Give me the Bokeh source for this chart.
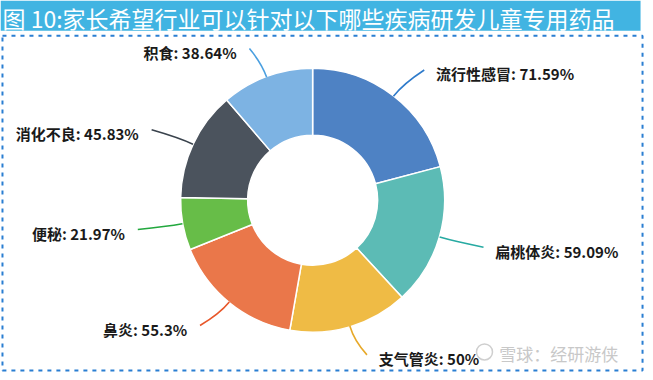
import numpy as np
import pandas as pd
from bokeh.plotting import figure
from bokeh.models import ColumnDataSource, Range1d
from bokeh.core.properties import value
from bokeh.embed import file_html
from bokeh.resources import INLINE

# ---------------- data ----------------
title_text = "图 10:家长希望行业可以针对以下哪些疾病研发儿童专用药品"
categories = ["流行性感冒", "扁桃体炎", "支气管炎", "鼻炎", "便秘", "消化不良", "积食"]
percent_values = [71.59, 59.09, 50, 55.3, 21.97, 45.83, 38.64]
percent_labels = ["71.59%", "59.09%", "50%", "55.3%", "21.97%", "45.83%", "38.64%"]
watermark_text = "雪球：经研游侠"

# ---------------- styles / layout ----------------
slice_colors = ["#4E82C4", "#5CBBB5", "#EFBB45", "#EA774A", "#67BD48", "#4B535D", "#7DB3E3"]
line_colors = ["#2F7BCB", "#27AAA2", "#E7A92A", "#E8572A", "#22A83E", "#3A434D", "#4CA0E0"]
W, H = 653, 380           # reference-pixel coordinate system (y measured downward)
cx, cy = 316, 204         # donut centre
R_OUT_PX, R_IN_PX = 132, 65
R_DATA = 134
# leader-line end points (reference pixels) and on which side the text sits
end_x = [429, 489, 371, 202, 139, 153, 252]
end_y = [71, 252, 362, 332, 234, 132, 49]
text_side = ["right", "right", "right", "left", "left", "left", "left"]

def fy(v):
    return H - v

vals = np.array(percent_values, dtype=float)
frac = vals / vals.sum() * 2 * np.pi
cum_end = np.cumsum(frac)
cum_start = cum_end - frac
start_angle = np.pi / 2 - cum_start
end_angle = np.pi / 2 - cum_end
mid_angle = np.pi / 2 - (cum_start + cum_end) / 2

df = pd.DataFrame(dict(cat=categories, val=vals, color=slice_colors,
                       start=start_angle, end=end_angle))
src = ColumnDataSource(df)

p = figure(width=645, height=372, x_range=Range1d(0, W), y_range=Range1d(0, H),
           output_backend="svg", toolbar_location=None, min_border=0,
           x_axis_type=None, y_axis_type=None)
p.grid.visible = False
p.outline_line_color = None
p.background_fill_color = "white"
p.border_fill_color = "white"

# title bar
p.quad(left=0, right=648, top=fy(0), bottom=fy(31), fill_color="#41B4E2", line_color=None)
p.text(x=[2], y=[fy(17.5)], text=[title_text], text_color="white",
       text_font=value("Noto Sans CJK SC"), text_font_size="23px",
       text_baseline="middle", text_align="left")

# dashed frame
p.quad(left=2, right=650, top=fy(36), bottom=fy(378), fill_color=None,
       line_color="#2A7ED2", line_width=2, line_dash="4 5")

# donut
p.annular_wedge(x=cx, y=fy(cy), inner_radius=R_IN_PX, outer_radius=R_OUT_PX,
                inner_radius_units="screen", outer_radius_units="screen",
                start_angle="start", end_angle="end", direction="clock",
                fill_color="color", line_color="white", line_width=1.5, source=src)

# leader lines and labels
for i, cat in enumerate(categories):
    a = mid_angle[i]
    x0 = cx + R_DATA * np.cos(a)
    y0 = cy - R_DATA * np.sin(a)
    ctlx = cx + (R_DATA + 16) * np.cos(a)
    ctly = cy - (R_DATA + 16) * np.sin(a)
    p.quadratic(x0=[x0], y0=[fy(y0)], x1=[end_x[i]], y1=[fy(end_y[i])],
                cx=[ctlx], cy=[fy(ctly)], line_color=line_colors[i], line_width=1.6)
    label = f"{cat}: {percent_labels[i]}"
    if text_side[i] == "right":
        tx, align = end_x[i] + 12, "left"
    else:
        tx, align = end_x[i] - 13, "right"
    p.text(x=[tx], y=[fy(end_y[i] + 4)], text=[label], text_color="#1a1a1a",
           text_font=value("Noto Sans CJK SC"), text_font_size="15px",
           text_font_style="bold", text_baseline="middle", text_align=align)

# watermark
p.text(x=[505], y=[fy(361)], text=[watermark_text], text_color="#c8c8c8",
       text_font=value("Noto Sans CJK SC"), text_font_size="17px",
       text_baseline="middle", text_align="left")
p.circle(x=[490], y=[fy(359)], radius=8, radius_units="screen",
         fill_color=None, line_color="#cfcfcf", line_width=1.5)

open("out.html", "w").write(file_html(p, INLINE))
